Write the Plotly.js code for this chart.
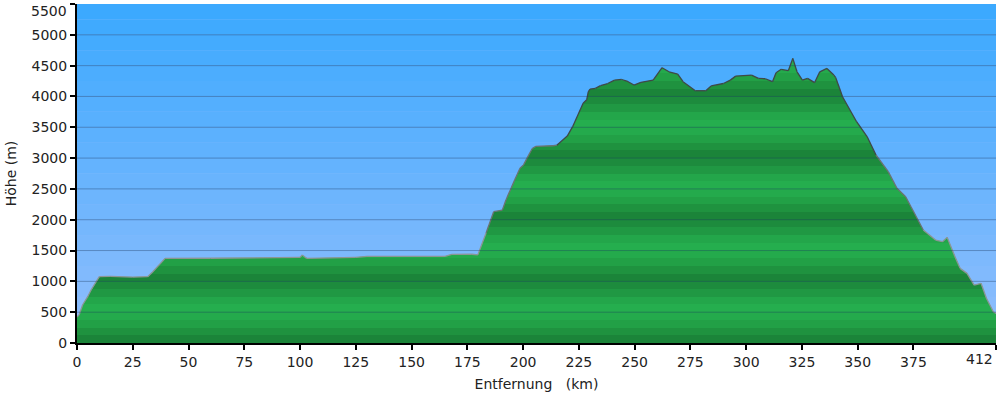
<!DOCTYPE html>
<html>
<head>
<meta charset="utf-8">
<script src="https://cdn.plot.ly/plotly-3.0.1.min.js"></script>
<style>html,body{margin:0;padding:0;background:#ffffff;}#chart{width:1000px;height:394px;}</style>
</head>
<body>
<div id="chart"></div>
<script>
// distance along route (km)
var distanceKm = [0, 1, 2.5, 4.8, 6.3, 10, 15, 25, 31.7, 34, 39.5, 60, 100, 101, 102, 103, 125, 130, 165, 168, 177, 179.7, 183.4, 186.8, 190.7, 192.3, 196.2, 198.6, 200.2, 201.7, 204.1, 205.7, 213.5, 215.1, 219.8, 222.2, 226.9, 228.5, 229.2, 230, 232.4, 234.7, 237.9, 241, 244.2, 246.5, 249.7, 252.8, 258.3, 262.3, 265.4, 269.3, 271.7, 277.2, 281.9, 284.3, 289.8, 292.9, 295.3, 302.4, 305.5, 308.6, 311.8, 313.4, 315.7, 318.9, 320.9, 322.8, 325.2, 327.5, 330.7, 333, 336.2, 339.3, 340.1, 341.7, 343.2, 349.5, 354.2, 358.2, 363.7, 367.6, 371.5, 373.9, 379.4, 384.9, 388, 390.1, 393.6, 395.9, 399, 402.2, 405.3, 407.7, 410.8, 412];
// elevation (m)
var elevationM = [420, 460, 616, 751, 860, 1076, 1080, 1070, 1076, 1157, 1373, 1375, 1390, 1427, 1400, 1373, 1390, 1406, 1406, 1438, 1440, 1430, 1784, 2130, 2157, 2320, 2645, 2835, 2890, 2995, 3155, 3190, 3200, 3210, 3357, 3510, 3890, 3946, 4075, 4120, 4130, 4175, 4210, 4265, 4275, 4250, 4185, 4230, 4265, 4466, 4400, 4363, 4240, 4093, 4093, 4170, 4210, 4265, 4330, 4347, 4293, 4287, 4240, 4385, 4440, 4418, 4618, 4400, 4265, 4293, 4225, 4400, 4455, 4347, 4310, 4150, 3995, 3590, 3350, 3050, 2780, 2510, 2373, 2211, 1833, 1670, 1643, 1714, 1400, 1211, 1130, 940, 968, 725, 508, 480];
// x tick values / labels
var xTickVals = [0, 25, 50, 75, 100, 125, 150, 175, 200, 225, 250, 275, 300, 325, 350, 375, 412];
var xTickText = ["0", "25", "50", "75", "100", "125", "150", "175", "200", "225", "250", "275", "300", "325", "350", "375", "412"];
var yTickVals = [0, 500, 1000, 1500, 2000, 2500, 3000, 3500, 4000, 4500, 5000, 5500];
var yTickText = ["0", "500", "1000", "1500", "2000", "2500", "3000", "3500", "4000", "4500", "5000", "5500"];

var yMax = 5500, xMax = 412;
var fontFam = "DejaVu Sans, Verdana, sans-serif";
var textCol = "#222222";
var fs = 14;

// green stripe colorscale (period 1000 m)
var stripeCols = ["#1b8439", "#1f923f", "#22a046", "#24aa4c", "#25ae4e", "#23a64a", "#209843", "#1d8b3d"];
var cs = [];
var step = 125;
var n = yMax / step;
for (var i = 0; i < n; i++) {
  var c = stripeCols[i % stripeCols.length];
  cs.push([i / n, c]);
  cs.push([Math.min(1, (i + 1) / n - 1e-6), c]);
}
cs[cs.length - 1][0] = 1;

// background bands
function lerp(a, b, t) { return Math.round(a + (b - a) * t); }
var bottomC = [0x93, 0xbe, 0xfd], topC = [0x3a, 0xa8, 0xfe];
var shapes = [];
var band = 250;
var nb = yMax / band;
for (var k = 0; k < nb; k++) {
  var t = (k + 0.5) / nb;
  var col = "rgb(" + lerp(bottomC[0], topC[0], t) + "," + lerp(bottomC[1], topC[1], t) + "," + lerp(bottomC[2], topC[2], t) + ")";
  shapes.push({type: "rect", xref: "x", yref: "y", x0: 0, x1: xMax, y0: k * band, y1: (k + 1) * band,
    fillcolor: col, line: {width: 0}, layer: "below"});
}
for (var g = 1; g < yTickVals.length - 1; g++) {
  shapes.push({type: "line", xref: "x", yref: "y", x0: 0, x1: xMax, y0: yTickVals[g], y1: yTickVals[g],
    line: {color: "rgba(25,55,95,0.38)", width: 1}, layer: "above"});
}

// outline: lighter at low altitude, darker higher up
var lineLevels = [
  {min: 0, max: 2000, color: "#8c9594"},
  {min: 2000, max: 3300, color: "#6a7371"},
  {min: 3300, max: 99999, color: "#3f4947"}
];
var outlineTraces = lineLevels.map(function (lv) {
  var xs = [], ys = [];
  for (var j = 0; j < distanceKm.length - 1; j++) {
    var m = Math.max(elevationM[j], elevationM[j + 1]);
    if (m >= lv.min && m < lv.max) {
      xs.push(distanceKm[j], distanceKm[j + 1], null);
      ys.push(elevationM[j], elevationM[j + 1], null);
    }
  }
  return {type: "scatter", mode: "lines", x: xs, y: ys, line: {color: lv.color, width: 1.3},
    connectgaps: false, hoverinfo: "skip"};
});

var fillTrace = {
  type: "scatter", mode: "lines",
  x: distanceKm, y: elevationM,
  fill: "tozeroy",
  fillgradient: {type: "vertical", colorscale: cs, start: 0, stop: yMax},
  line: {color: "rgba(0,0,0,0)", width: 0},
  hoverinfo: "skip"
};

// edge labels that the reference nudges inwards
var xTickShown = xTickText.slice(); xTickShown[xTickShown.length - 1] = "";
var yTickShown = yTickText.slice(); yTickShown[yTickShown.length - 1] = "";
var annotations = [
  {xref: "x", yref: "paper", x: xTickVals[xTickVals.length - 1], y: 0, yshift: -6,
   xanchor: "right", yanchor: "top", xshift: -1, text: xTickText[xTickText.length - 1], showarrow: false,
   font: {family: fontFam, size: fs, color: textCol}},
  {xref: "paper", yref: "y", x: 0, y: yTickVals[yTickVals.length - 1], xshift: -8, yshift: 3,
   xanchor: "right", yanchor: "top", text: yTickText[yTickText.length - 1], showarrow: false,
   font: {family: fontFam, size: fs, color: textCol}}
];

var layout = {
  width: 1000, height: 394,
  margin: {l: 77, r: 4, t: 4, b: 51},
  paper_bgcolor: "#ffffff",
  plot_bgcolor: "#8fbcfd",
  showlegend: false,
  font: {family: fontFam, size: fs, color: textCol},
  shapes: shapes,
  annotations: annotations,
  xaxis: {
    range: [0, xMax], tickmode: "array", tickvals: xTickVals, ticktext: xTickShown,
    showgrid: false, zeroline: false, showline: true, linecolor: "#000000", linewidth: 2,
    ticks: "outside", ticklen: 5, tickwidth: 2, tickcolor: "#000000",
    tickfont: {family: fontFam, size: fs, color: textCol},
    title: {text: "Entfernung   (km)", font: {family: fontFam, size: fs, color: textCol}, standoff: 10}
  },
  yaxis: {
    range: [0, yMax], tickmode: "array", tickvals: yTickVals, ticktext: yTickShown,
    showgrid: false, zeroline: false, showline: true, linecolor: "#000000", linewidth: 2,
    ticks: "outside", ticklen: 5, tickwidth: 2, tickcolor: "#000000",
    tickfont: {family: fontFam, size: fs, color: textCol},
    title: {text: "Höhe (m)", font: {family: fontFam, size: fs, color: textCol}, standoff: 12}
  }
};

Plotly.newPlot("chart", [fillTrace].concat(outlineTraces), layout, {staticPlot: true, displayModeBar: false});
</script>
</body>
</html>
